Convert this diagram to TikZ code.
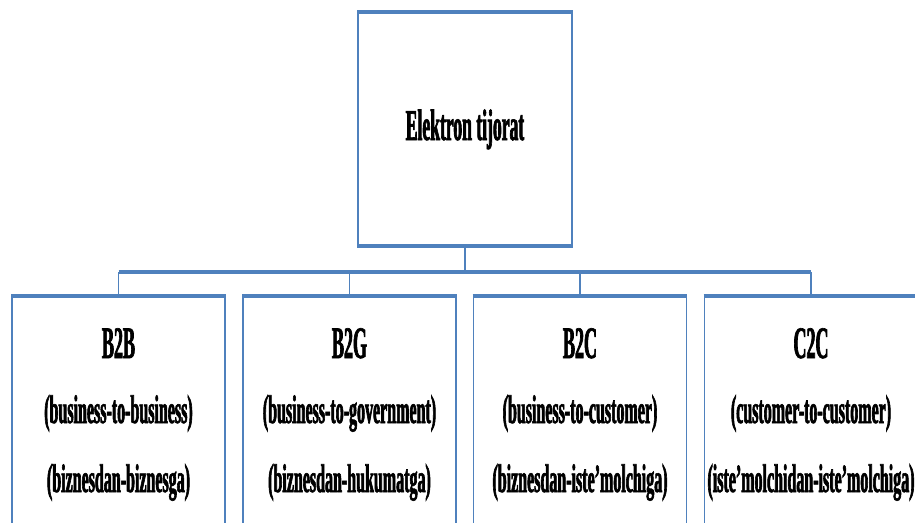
\documentclass[tikz,border=0pt]{standalone}
\usepackage{fontspec}
\setmainfont{Liberation Serif}[FakeStretch=0.4,BoldFeatures={FakeBold=1.5}]
\definecolor{boxblue}{RGB}{79,129,189}
\begin{document}
\begin{tikzpicture}[x=1pt,y=-1pt,draw=boxblue]
	\def \rowbar{272}
	\def \rowhead{358}
	\def \rowen{423}
	\def \rowuz{492}
	\tikzstyle{c-box}=[draw,line width=1.8pt,minimum width=213pt,minimum height=263pt,inner sep=0pt]
	\tikzstyle{h-line}=[line width=4.2pt]
	\tikzstyle{v-line}=[line width=1.8pt]
	\tikzstyle{t-head}=[anchor=base,inner sep=0pt,font=\fontsize{45}{45}\selectfont\bfseries]
	\tikzstyle{t-text}=[anchor=base,inner sep=0pt,font=\fontsize{40}{40}\selectfont\bfseries]
	\useasboundingbox (0,0) rectangle (915,522);
	\clip (0,0) rectangle (915,522);

	% top box
	\node[c-box,minimum width=214pt,minimum height=232pt] (top) at (465,129) {};
	\node[anchor=base,inner sep=0pt,font=\fontsize{44}{44}\selectfont\bfseries] (toptext) at (465,140) {Elektron tijorat};

	% bottom boxes
	\node[c-box] (b2b) at (118.5,428.5) {};
	\node[c-box] (b2g) at (349.5,428.5) {};
	\node[c-box] (b2c) at (580,428.5) {};
	\node[c-box] (c2c) at (811,428.5) {};

	% box texts
	\node[t-head] (b2bhead) at (118.5,\rowhead) {B2B};
	\node[t-text] (b2ben)   at (118.5,\rowen)   {(business-to-business)};
	\node[t-text] (b2buz)   at (118.5,\rowuz)   {(biznesdan-biznesga)};
	%
	\node[t-head] (b2ghead) at (349.5,\rowhead) {B2G};
	\node[t-text] (b2gen)   at (349.5,\rowen)   {(business-to-government)};
	\node[t-text] (b2guz)   at (349.5,\rowuz)   {(biznesdan-hukumatga)};
	%
	\node[t-head] (b2chead) at (580,\rowhead) {B2C};
	\node[t-text] (b2cen)   at (580,\rowen)   {(business-to-customer)};
	\node[t-text] (b2cuz)   at (580,\rowuz)   {(biznesdan-iste’molchiga)};
	%
	\node[t-head] (c2chead) at (811,\rowhead) {C2C};
	\node[t-text] (c2cen)   at (811,\rowen)   {(customer-to-customer)};
	\node[t-text] (c2cuz)   at (811,\rowuz)   {(iste’molchidan-iste’molchiga)};

	% thick horizontal edges
	\draw[h-line] (top.north west) -- (top.north east);
	\draw[h-line] (top.south west) -- (top.south east);
	\draw[h-line] (b2b.north west) -- (b2b.north east);
	\draw[h-line] (b2g.north west) -- (b2g.north east);
	\draw[h-line] (b2c.north west) -- (b2c.north east);
	\draw[h-line] (c2c.north west) -- (c2c.north east);

	% connectors
	\coordinate (barl) at (118.5,\rowbar);
	\coordinate (barr) at (811,\rowbar);
	\draw[h-line] (barl) -- (barr);
	\draw[v-line] (top.south) -- (top.south |- barl);
	\draw[v-line] (barl) -- (b2b.north);
	\draw[v-line] (b2g.north |- barl) -- (b2g.north);
	\draw[v-line] (b2c.north |- barl) -- (b2c.north);
	\draw[v-line] (barr) -- (c2c.north);
\end{tikzpicture}
\end{document}
